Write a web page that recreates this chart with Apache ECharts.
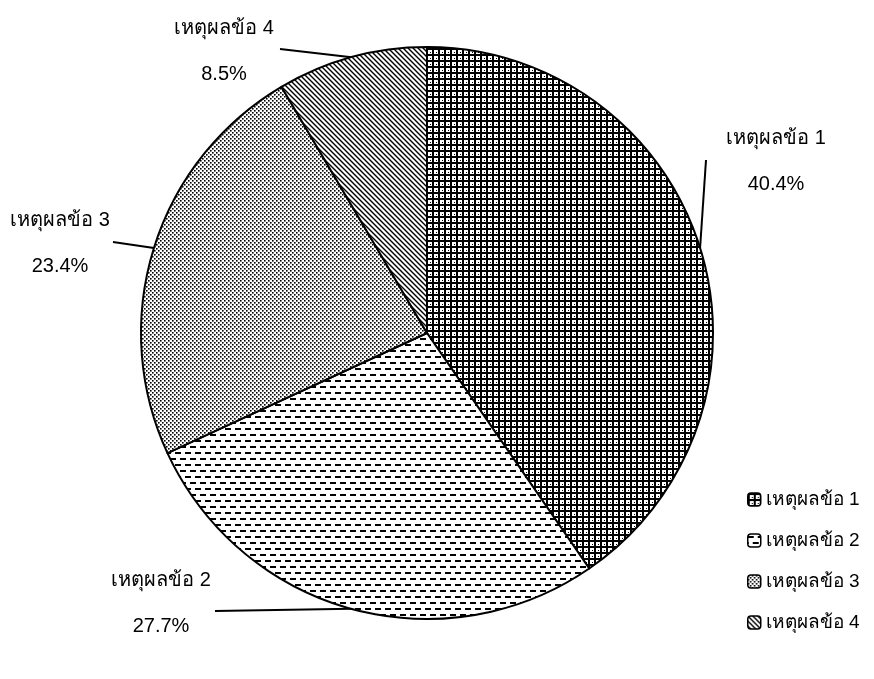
<!DOCTYPE html>
<html>
<head>
<meta charset="utf-8">
<title>Pie</title>
<script src="https://cdn.jsdelivr.net/npm/echarts@6/dist/echarts.min.js"></script>
<style>
  html, body { margin: 0; padding: 0; background: #ffffff; }
  #chart { width: 874px; height: 679px; }
</style>
</head>
<body>
<div id="chart"></div>
<script>
// data
var reasons = ['เหตุผลข้อ 1', 'เหตุผลข้อ 2', 'เหตุผลข้อ 3', 'เหตุผลข้อ 4']
var shares = [40.4, 27.7, 23.4, 8.5]

// where each outside label sits (label centre x, top y, line end)
var labelSpots = [
  { x: 776, y: 115, lx: 706, ly: 160 },
  { x: 161, y: 557, lx: 215, ly: 611 },
  { x: 60, y: 197, lx: 113, ly: 242 },
  { x: 224, y: 5, lx: 280, ly: 49 }
]

function makeTile(w, h, draw) {
  var c = document.createElement('canvas')
  c.width = w
  c.height = h
  var ctx = c.getContext('2d')
  ctx.fillStyle = '#ffffff'
  ctx.fillRect(0, 0, w, h)
  ctx.fillStyle = '#000000'
  ctx.strokeStyle = '#000000'
  draw(ctx)
  return { image: c, repeat: 'repeat' }
}

// grid
var gridFill = makeTile(6, 6, function (ctx) {
  ctx.fillRect(0, 0, 6, 2)
  ctx.fillRect(0, 0, 2, 6)
  ctx.fillRect(4, 4, 1, 1)
})
// dashes
var dashFill = makeTile(10, 12, function (ctx) {
  ctx.fillRect(0, 2, 6, 2)
  ctx.fillRect(5, 8, 5, 2)
  ctx.fillRect(0, 8, 1, 2)
})
// dots
var dotFill = makeTile(4, 4, function (ctx) {
  ctx.fillRect(0, 0, 1.6, 1.6)
  ctx.fillRect(2, 2, 1.6, 1.6)
})
// diagonal lines
var diagFill = makeTile(5, 5, function (ctx) {
  ctx.lineWidth = 1.4
  ctx.beginPath()
  ctx.moveTo(-1, -1); ctx.lineTo(6, 6)
  ctx.moveTo(-1, 4); ctx.lineTo(1, 6)
  ctx.moveTo(4, -1); ctx.lineTo(6, 1)
  ctx.stroke()
})
var fills = [gridFill, dashFill, dotFill, diagFill]

var chart = echarts.init(document.getElementById('chart'))
var fontFam = '"Liberation Sans", Arial, "Noto Sans", sans-serif'

chart.setOption({
  backgroundColor: '#ffffff',
  animation: false,
  legend: {
    orient: 'vertical',
    left: 742,
    top: 485,
    itemWidth: 13,
    itemHeight: 13,
    itemGap: 22,
    itemStyle: { borderColor: '#000', borderWidth: 1.5 },
    data: reasons,
    textStyle: { fontSize: 19, color: '#000', fontFamily: fontFam }
  },
  series: [{
    type: 'pie',
    center: [427, 333],
    radius: 286,
    startAngle: 90,
    clockwise: true,
    avoidLabelOverlap: false,
    data: reasons.map(function (n, i) {
      return {
        name: n,
        value: shares[i],
        itemStyle: { color: fills[i] }
      }
    }),
    itemStyle: { borderColor: '#000', borderWidth: 2 },
    emphasis: { disabled: true },
    label: {
      show: true,
      position: 'outside',
      formatter: function (p) { return p.name + '\n' + p.value.toFixed(1) + '%' },
      fontSize: 20,
      lineHeight: 46,
      color: '#000',
      fontFamily: fontFam
    },
    labelLine: {
      show: true,
      length: 10,
      length2: 0,
      lineStyle: { color: '#000', width: 2 }
    },
    labelLayout: function (params) {
      var s = labelSpots[params.dataIndex]
      var p0 = params.labelLinePoints ? params.labelLinePoints[0] : [s.lx, s.ly]
      return {
        x: s.x,
        y: s.y,
        align: 'center',
        verticalAlign: 'top',
        labelLinePoints: [p0, [s.lx, s.ly], [s.lx, s.ly]]
      }
    }
  }]
})
</script>
</body>
</html>
